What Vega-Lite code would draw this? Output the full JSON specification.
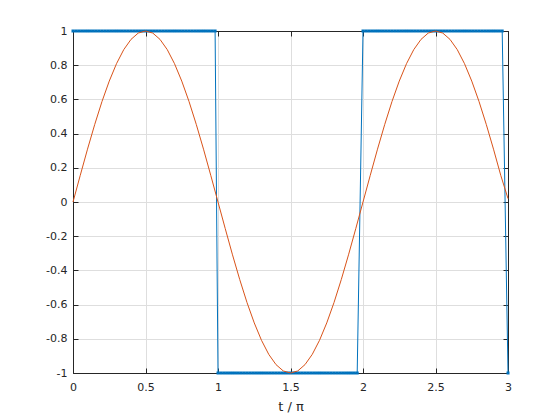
{
  "$schema": "https://vega.github.io/schema/vega-lite/v6.json",
  "width": 435,
  "height": 342,
  "autosize": {"type": "none"},
  "padding": {"left": 73, "top": 31, "right": 52, "bottom": 47},
  "background": "white",
  "config": {
    "view": {"stroke": "#262626", "strokeWidth": 1},
    "axis": {
      "domainColor": "#262626",
      "tickColor": "#262626",
      "labelColor": "#262626",
      "titleColor": "#262626",
      "labelFont": "DejaVu Sans",
      "titleFont": "DejaVu Sans",
      "labelFontSize": 11,
      "titleFontSize": 13,
      "titleFontWeight": "normal",
      "labelFlush": false,
      "gridColor": "#dedede",
      "gridWidth": 1,
      "tickSize": -5
    }
  },
  "datasets": {
    "sq": [
      {"t":0,"s":1},{"t":0.02,"s":1},{"t":0.04,"s":1},{"t":0.06,"s":1},{"t":0.08,"s":1},{"t":0.1,"s":1},{"t":0.12,"s":1},{"t":0.14,"s":1},{"t":0.16,"s":1},{"t":0.18,"s":1},
      {"t":0.2,"s":1},{"t":0.22,"s":1},{"t":0.24,"s":1},{"t":0.26,"s":1},{"t":0.28,"s":1},{"t":0.3,"s":1},{"t":0.32,"s":1},{"t":0.34,"s":1},{"t":0.36,"s":1},{"t":0.38,"s":1},
      {"t":0.4,"s":1},{"t":0.42,"s":1},{"t":0.44,"s":1},{"t":0.46,"s":1},{"t":0.48,"s":1},{"t":0.5,"s":1},{"t":0.52,"s":1},{"t":0.54,"s":1},{"t":0.56,"s":1},{"t":0.58,"s":1},
      {"t":0.6,"s":1},{"t":0.62,"s":1},{"t":0.64,"s":1},{"t":0.66,"s":1},{"t":0.68,"s":1},{"t":0.7,"s":1},{"t":0.72,"s":1},{"t":0.74,"s":1},{"t":0.76,"s":1},{"t":0.78,"s":1},
      {"t":0.8,"s":1},{"t":0.82,"s":1},{"t":0.84,"s":1},{"t":0.86,"s":1},{"t":0.88,"s":1},{"t":0.9,"s":1},{"t":0.92,"s":1},{"t":0.94,"s":1},{"t":0.96,"s":1},{"t":0.98,"s":1},
      {"t":1,"s":-1},{"t":1.02,"s":-1},{"t":1.04,"s":-1},{"t":1.06,"s":-1},{"t":1.08,"s":-1},{"t":1.1,"s":-1},{"t":1.12,"s":-1},{"t":1.14,"s":-1},{"t":1.16,"s":-1},{"t":1.18,"s":-1},
      {"t":1.2,"s":-1},{"t":1.22,"s":-1},{"t":1.24,"s":-1},{"t":1.26,"s":-1},{"t":1.28,"s":-1},{"t":1.3,"s":-1},{"t":1.32,"s":-1},{"t":1.34,"s":-1},{"t":1.36,"s":-1},{"t":1.38,"s":-1},
      {"t":1.4,"s":-1},{"t":1.42,"s":-1},{"t":1.44,"s":-1},{"t":1.46,"s":-1},{"t":1.48,"s":-1},{"t":1.5,"s":-1},{"t":1.52,"s":-1},{"t":1.54,"s":-1},{"t":1.56,"s":-1},{"t":1.58,"s":-1},
      {"t":1.6,"s":-1},{"t":1.62,"s":-1},{"t":1.64,"s":-1},{"t":1.66,"s":-1},{"t":1.68,"s":-1},{"t":1.7,"s":-1},{"t":1.72,"s":-1},{"t":1.74,"s":-1},{"t":1.76,"s":-1},{"t":1.78,"s":-1},
      {"t":1.8,"s":-1},{"t":1.82,"s":-1},{"t":1.84,"s":-1},{"t":1.86,"s":-1},{"t":1.88,"s":-1},{"t":1.9,"s":-1},{"t":1.92,"s":-1},{"t":1.94,"s":-1},{"t":1.96,"s":-1},
      {"t":2,"s":1},{"t":2.02,"s":1},{"t":2.04,"s":1},{"t":2.06,"s":1},{"t":2.08,"s":1},{"t":2.1,"s":1},{"t":2.12,"s":1},{"t":2.14,"s":1},{"t":2.16,"s":1},{"t":2.18,"s":1},
      {"t":2.2,"s":1},{"t":2.22,"s":1},{"t":2.24,"s":1},{"t":2.26,"s":1},{"t":2.28,"s":1},{"t":2.3,"s":1},{"t":2.32,"s":1},{"t":2.34,"s":1},{"t":2.36,"s":1},{"t":2.38,"s":1},
      {"t":2.4,"s":1},{"t":2.42,"s":1},{"t":2.44,"s":1},{"t":2.46,"s":1},{"t":2.48,"s":1},{"t":2.5,"s":1},{"t":2.52,"s":1},{"t":2.54,"s":1},{"t":2.56,"s":1},{"t":2.58,"s":1},
      {"t":2.6,"s":1},{"t":2.62,"s":1},{"t":2.64,"s":1},{"t":2.66,"s":1},{"t":2.68,"s":1},{"t":2.7,"s":1},{"t":2.72,"s":1},{"t":2.74,"s":1},{"t":2.76,"s":1},{"t":2.78,"s":1},
      {"t":2.8,"s":1},{"t":2.82,"s":1},{"t":2.84,"s":1},{"t":2.86,"s":1},{"t":2.88,"s":1},{"t":2.9,"s":1},{"t":2.92,"s":1},{"t":2.94,"s":1},{"t":2.96,"s":1},
      {"t":3,"s":-1}
    ],
    "sn": [
      {"t":0,"y":0},{"t":0.05,"y":0.156},{"t":0.1,"y":0.309},{"t":0.15,"y":0.454},{"t":0.2,"y":0.588},{"t":0.25,"y":0.707},{"t":0.3,"y":0.809},{"t":0.35,"y":0.891},{"t":0.4,"y":0.951},{"t":0.45,"y":0.988},
      {"t":0.5,"y":1},{"t":0.55,"y":0.988},{"t":0.6,"y":0.951},{"t":0.65,"y":0.891},{"t":0.7,"y":0.809},{"t":0.75,"y":0.707},{"t":0.8,"y":0.588},{"t":0.85,"y":0.454},{"t":0.9,"y":0.309},{"t":0.95,"y":0.156},
      {"t":1,"y":0},{"t":1.05,"y":-0.156},{"t":1.1,"y":-0.309},{"t":1.15,"y":-0.454},{"t":1.2,"y":-0.588},{"t":1.25,"y":-0.707},{"t":1.3,"y":-0.809},{"t":1.35,"y":-0.891},{"t":1.4,"y":-0.951},{"t":1.45,"y":-0.988},
      {"t":1.5,"y":-1},{"t":1.55,"y":-0.988},{"t":1.6,"y":-0.951},{"t":1.65,"y":-0.891},{"t":1.7,"y":-0.809},{"t":1.75,"y":-0.707},{"t":1.8,"y":-0.588},{"t":1.85,"y":-0.454},{"t":1.9,"y":-0.309},{"t":1.95,"y":-0.156},
      {"t":2,"y":0},{"t":2.05,"y":0.156},{"t":2.1,"y":0.309},{"t":2.15,"y":0.454},{"t":2.2,"y":0.588},{"t":2.25,"y":0.707},{"t":2.3,"y":0.809},{"t":2.35,"y":0.891},{"t":2.4,"y":0.951},{"t":2.45,"y":0.988},
      {"t":2.5,"y":1},{"t":2.55,"y":0.988},{"t":2.6,"y":0.951},{"t":2.65,"y":0.891},{"t":2.7,"y":0.809},{"t":2.75,"y":0.707},{"t":2.8,"y":0.588},{"t":2.85,"y":0.454},{"t":2.9,"y":0.309},{"t":2.95,"y":0.156},
      {"t":3,"y":0.02}
    ]
  },
  "layer": [
    {
      "data": {"name": "sq"},
      "mark": {"type": "line", "color": "#0072BD", "strokeWidth": 1, "point": {"filled": true, "size": 9, "color": "#0072BD", "shape": "square"}},
      "encoding": {
        "x": {"field": "t", "type": "quantitative", "scale": {"domain": [0, 3], "nice": false, "zero": false},
              "axis": {"orient": "bottom", "values": [0, 0.5, 1, 1.5, 2, 2.5, 3], "labelExpr": "'' + datum.value", "grid": true, "title": "t / π", "labelPadding": 13, "titlePadding": 8}},
        "y": {"field": "s", "type": "quantitative", "scale": {"domain": [-1, 1], "nice": false, "zero": false},
              "axis": {"orient": "left", "values": [-1, -0.8, -0.6, -0.4, -0.2, 0, 0.2, 0.4, 0.6, 0.8, 1], "labelExpr": "'' + datum.value", "grid": true, "title": null, "labelPadding": 11}}
      }
    },
    {
      "data": {"name": "sn"},
      "mark": {"type": "line", "color": "#D95319", "strokeWidth": 1},
      "encoding": {
        "x": {"field": "t", "type": "quantitative",
              "axis": {"orient": "top", "values": [0, 0.5, 1, 1.5, 2, 2.5, 3], "labels": false, "grid": false, "title": null}},
        "y": {"field": "y", "type": "quantitative",
              "axis": {"orient": "right", "values": [-1, -0.8, -0.6, -0.4, -0.2, 0, 0.2, 0.4, 0.6, 0.8, 1], "labels": false, "grid": false, "title": null}}
      }
    }
  ],
  "resolve": {"axis": {"x": "independent", "y": "independent"}}
}
